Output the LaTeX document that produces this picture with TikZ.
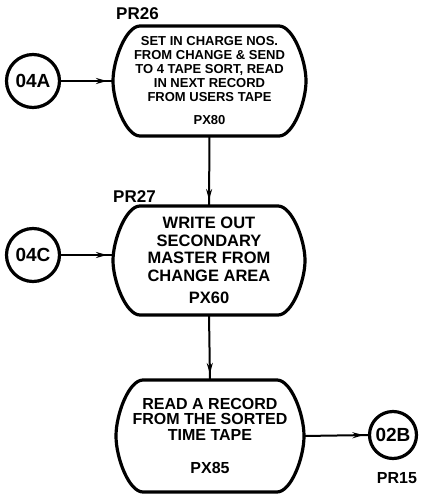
\documentclass[tikz,border=0pt]{standalone}
\usepackage{fontspec}
\setmainfont{Liberation Sans}
\usetikzlibrary{calc,arrows.meta,decorations.markings}

% Outline of a process box: flat top and bottom, bulging sides
\newcommand\barrelbox[1]{%
  \draw[barrel] ($(#1.north west)+(27,0)$) -- ($(#1.north east)+(-27,0)$)
    .. controls ($(#1.north east)+(-13,0)$) and ($(#1.north east)+(0,34)$) .. (#1.east)
    .. controls ($(#1.south east)+(0,-34)$) and ($(#1.south east)+(-13,0)$) .. ($(#1.south east)+(-27,0)$)
    -- ($(#1.south west)+(27,0)$)
    .. controls ($(#1.south west)+(13,0)$) and ($(#1.south west)+(0,-34)$) .. (#1.west)
    .. controls ($(#1.north west)+(0,34)$) and ($(#1.north west)+(13,0)$) .. ($(#1.north west)+(27,0)$)
    -- cycle;}

\begin{document}
\begin{tikzpicture}[x=1pt,y=-1pt,
  barrel/.style={line width=3.2pt, line join=round},
  procbox/.style={rectangle, draw=none, outer sep=0pt, inner sep=0pt, align=center},
  connector/.style={circle, draw, line width=3.2pt, outer sep=0pt, inner sep=0pt,
    font=\bfseries\fontsize{19}{19}\selectfont},
  reflabel/.style={font=\bfseries\fontsize{17}{17}\selectfont, inner sep=0pt},
  flow/.style={line width=2pt, postaction={decorate},
    decoration={markings, mark=at position -6pt with {\arrow{Stealth[length=11pt,width=6pt]}}}}
]
\useasboundingbox (0,0) rectangle (424,495);

% process boxes
\node[procbox, minimum width=193pt, minimum height=110pt,
  font=\bfseries\fontsize{13}{14}\selectfont] (b1) at (209.5,81)
  {SET IN CHARGE NOS.\\ FROM CHANGE \& SEND\\ TO 4 TAPE SORT, READ\\ IN NEXT RECORD\\ FROM USERS TAPE\\[9pt] PX80};
\node[procbox, minimum width=192pt, minimum height=109pt,
  font=\bfseries\fontsize{16.5}{17.5}\selectfont] (b2) at (209,260.5)
  {WRITE OUT\\ SECONDARY\\ MASTER FROM\\ CHANGE AREA\\[4.5pt] PX60};
\node[procbox, minimum width=188pt, minimum height=112pt,
  font=\bfseries\fontsize{16}{15.5}\selectfont] (b3) at (210,436)
  {READ A RECORD\\ FROM THE SORTED\\ TIME TAPE\\[18pt] PX85};
\barrelbox{b1}
\barrelbox{b2}
\barrelbox{b3}

% off-page connectors
\node[connector, minimum size=53pt] (c04A) at (33,81) {04A};
\node[connector, minimum size=53pt] (c04C) at (33,255) {04C};
\node[connector, minimum size=47pt] (c02B) at (393,435) {02B};

% reference labels
\node[reflabel] (l26) at (137.5,14) {PR26};
\node[reflabel] (l27) at (134.5,197) {PR27};
\node[reflabel, font=\bfseries\fontsize{16}{16}\selectfont] (l15) at (397,478) {PR15};

% flow lines
\draw[flow] (c04A.east) -- (c04A.east -| b1.west);
\draw[flow] (c04C.east) -- (c04C.east -| b2.west);
\draw[flow] (b1.south) -- (b2.north);
\draw[flow] (b2.south) -- (b3.north);
\draw[flow] (b3.east) -- (c02B.west);
\end{tikzpicture}
\end{document}
